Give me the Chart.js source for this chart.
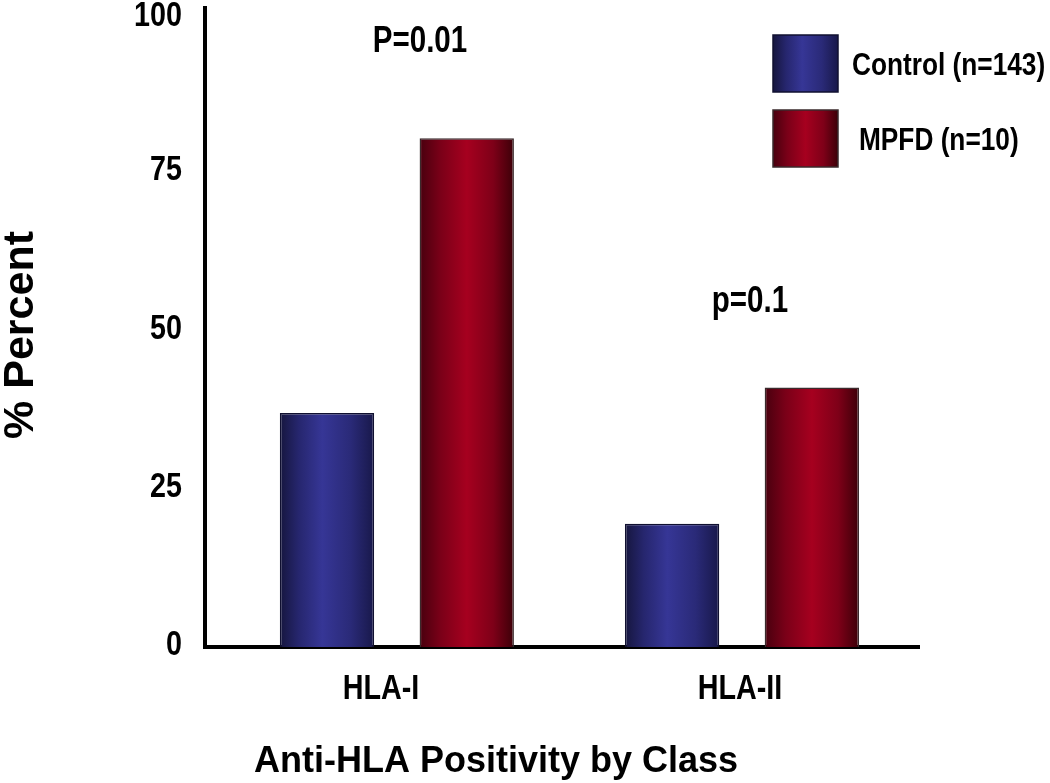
<!DOCTYPE html>
<html>
<head>
<meta charset="utf-8">
<script src="https://cdn.jsdelivr.net/npm/chart.js@4/dist/chart.umd.min.js"></script>
<style>
  html, body { margin: 0; padding: 0; background: #fff; }
  #wrap { width: 1050px; height: 783px; position: relative; }
</style>
</head>
<body>
<div id="wrap"><canvas id="chart"></canvas></div>
<script>
// data
const classes   = ['HLA-I', 'HLA-II'];
const control   = [37, 19.5];
const mpfd      = [80.4, 41];
const seriesLbl = ['Control (n=143)', 'MPFD (n=10)'];
const yTicks    = [0, 25, 50, 75, 100];
const classAt   = [-0.046, -0.006];              // label centres, in class units
const pLabels   = ['P=0.01', 'p=0.1'];
const pAt       = [[0.067, 94], [1.023, 53]];    // [class position, % value] of each p label baseline

const FONT = "'Liberation Sans', Arial, sans-serif";
const SQUEEZE = 0.82;   // reference text is an Arial Narrow look

// cylinder shading stops per series
const shades = [
  [[0, '#16163e'], [0.2, '#26266e'], [0.45, '#363696'], [0.75, '#2a2a78'], [1, '#18184a']],
  [[0, '#48000e'], [0.22, '#7a0018'], [0.5, '#a6001f'], [0.78, '#7e0018'], [1, '#3c0008']],
];
const borders = ['#101030', '#3a2a2c'];

function grad(ctx, x0, x1, stops) {
  const g = ctx.createLinearGradient(x0, 0, x1, 0);
  stops.forEach(([o, c]) => g.addColorStop(o, c));
  return g;
}

function narrow(ctx, text, x, y, size, align) {
  ctx.save();
  ctx.font = `bold ${size}px ${FONT}`;
  ctx.textBaseline = 'alphabetic';
  ctx.textAlign = align;
  ctx.fillStyle = '#000';
  ctx.translate(x, y);
  ctx.scale(SQUEEZE, 1);
  ctx.fillText(text, 0, 0);
  ctx.restore();
}

const shadeBars = {
  id: 'shadeBars',
  beforeDatasetsDraw(chart) {
    chart.data.datasets.forEach((ds, di) => {
      chart.getDatasetMeta(di).data.forEach(bar => {
        const w = bar.width;
        bar.options.backgroundColor = grad(chart.ctx, bar.x - w / 2, bar.x + w / 2, shades[di]);
      });
    });
  },
};

const extras = {
  id: 'extras',
  afterDraw(chart) {
    const { ctx, chartArea, scales: { x, y } } = chart;

    // axis labels
    yTicks.forEach(v => narrow(ctx, String(v), chartArea.left - 23, y.getPixelForValue(v) + (v === 100 ? 12 : 8), 35, 'right'));
    classes.forEach((c, i) => narrow(ctx, c, x.getPixelForValue(i + classAt[i]), chartArea.bottom + 52, 35, 'center'));

    // axis titles
    ctx.save();
    ctx.fillStyle = '#000';
    ctx.font = `bold 36px ${FONT}`;
    ctx.textAlign = 'center';
    ctx.textBaseline = 'alphabetic';
    ctx.fillText('Anti-HLA Positivity by Class', chartArea.left + 291, chartArea.bottom + 125);
    ctx.font = `bold 43px ${FONT}`;
    ctx.textBaseline = 'middle';
    ctx.translate(21, 335);
    ctx.rotate(-Math.PI / 2);
    ctx.fillText('% Percent', 0, 0);
    ctx.restore();

    // p-value notes
    pLabels.forEach((t, i) => narrow(ctx, t, x.getPixelForValue(pAt[i][0]), y.getPixelForValue(pAt[i][1]), 36, 'center'));

    // legend
    const lx = 773, ly = 35, bw = 65, bh = 57, gap = 18;
    seriesLbl.forEach((t, i) => {
      const top = ly + i * (bh + gap);
      ctx.save();
      ctx.fillStyle = grad(ctx, lx, lx + bw, shades[i]);
      ctx.fillRect(lx, top, bw, bh);
      ctx.strokeStyle = borders[i];
      ctx.lineWidth = 1.5;
      ctx.strokeRect(lx, top, bw, bh);
      ctx.restore();
      narrow(ctx, t, lx + bw + 14 + i * 7, top + bh / 2 + 11, 32, 'left');
    });
  },
};

const mk = (vals, i) => ({
  label: seriesLbl[i],
  data: classes.map((c, k) => ({ x: k, y: vals[k] })),
  backgroundColor: () => shades[i][2][1],
  borderColor: borders[i],
  borderWidth: 1.5,
  borderSkipped: 'bottom',
  categoryPercentage: 0.81,
  barPercentage: 0.675,
});

new Chart(document.getElementById('chart'), {
  type: 'bar',
  data: { datasets: [mk(control, 0), mk(mpfd, 1)] },
  options: {
    responsive: true,
    maintainAspectRatio: false,
    animation: false,
    layout: { padding: { top: 8, right: 131, left: 0, bottom: 0 } },
    plugins: { legend: { display: false }, tooltip: { enabled: false } },
    scales: {
      x: {
        type: 'linear',
        min: -0.556,
        max: 1.513,
        offset: false,
        grid: { display: false, drawTicks: false },
        border: { display: true, color: '#000', width: 4 },
        ticks: { display: false, stepSize: 1, includeBounds: false },
        afterFit: s => { s.height = 136; },
      },
      y: {
        min: 0,
        max: 101,
        grid: { display: false, drawTicks: false },
        border: { display: true, color: '#000', width: 4 },
        afterBuildTicks: s => { s.ticks = yTicks.map(v => ({ value: v })); },
        ticks: { display: false },
        afterFit: s => { s.width = 205; },
      },
    },
  },
  plugins: [shadeBars, extras],
});
</script>
</body>
</html>
